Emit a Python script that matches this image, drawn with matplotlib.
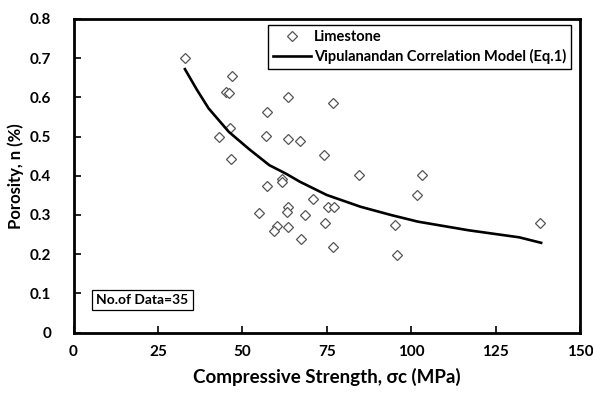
import matplotlib.pyplot as plt
import numpy as np

plt.rcParams['font.family'] = ['Lato', 'DejaVu Sans']

# measured limestone data (compressive strength MPa, porosity %)
strength = [33, 47, 45.3, 46, 63.5, 76.9, 57.2, 46.3, 43, 56.9, 63.5, 67,
            46.5, 74.1, 84.7, 61.8, 61.6, 57.2, 70.8, 63.5, 63.3, 75.4, 77.1,
            54.9, 68.5, 60.3, 59.4, 63.5, 74.6, 67.4, 76.9, 103.2, 101.6,
            95.1, 95.9, 138.3]
porosity = [0.70, 0.655, 0.613, 0.61, 0.60, 0.585, 0.563, 0.522, 0.50, 0.502,
            0.493, 0.489, 0.443, 0.452, 0.402, 0.393, 0.383, 0.374, 0.341,
            0.321, 0.308, 0.321, 0.321, 0.306, 0.30, 0.272, 0.26, 0.269, 0.28,
            0.238, 0.219, 0.402, 0.35, 0.274, 0.198, 0.28]

# model curve
model_x = [33, 36.5, 40, 46, 52, 58, 63, 67, 75, 85, 94, 102, 117, 132, 138.5]
model_y = [0.672, 0.62, 0.572, 0.512, 0.468, 0.427, 0.405, 0.385, 0.351,
           0.321, 0.300, 0.283, 0.261, 0.243, 0.229]

fig = plt.figure(figsize=(5.93, 3.95), dpi=100)
ax = fig.add_axes([0.124, 0.158, 0.854, 0.794])

ax.plot(strength, porosity, linestyle='none', marker='D', ms=5.2,
        mfc='white', mec='#555555', mew=0.9, label='Limestone')
ax.plot(model_x, model_y, color='black', lw=1.9,
        label='Vipulanandan Correlation Model (Eq.1)')

ax.set_xlim(0, 150)
ax.set_ylim(0, 0.8)
ax.set_xticks(np.arange(0, 151, 25))
ax.set_yticks(np.arange(0, 0.81, 0.1))
ax.set_yticklabels(['0', '0.1', '0.2', '0.3', '0.4', '0.5', '0.6', '0.7', '0.8'])
ax.tick_params(direction='in', length=5, width=1.2, labelsize=11)
ax.tick_params(axis='x', pad=9)
ax.tick_params(axis='y', pad=16)
for lab in ax.get_xticklabels() + ax.get_yticklabels():
    lab.set_fontweight('bold')
for sp in ax.spines.values():
    sp.set_linewidth(2)

ax.set_xlabel('Compressive Strength, σc (MPa)', fontsize=13.5, fontweight='bold', labelpad=6)
ax.set_ylabel('Porosity, n (%)', fontsize=12, fontweight='bold', labelpad=4)

leg = ax.legend(loc='upper right', bbox_to_anchor=(0.988, 0.99), fancybox=False,
                edgecolor='black', framealpha=1, fontsize=10.5, handlelength=2.6,
                handletextpad=0.2, borderpad=0.35, labelspacing=0.35,
                borderaxespad=0.2)
leg.get_frame().set_linewidth(1.0)
for t in leg.get_texts():
    t.set_fontweight('bold')

ax.text(0.045, 0.103, 'No.of Data=35', transform=ax.transAxes, fontsize=10,
        fontweight='bold', va='center', ha='left',
        bbox=dict(boxstyle='square,pad=0.3', fc='white', ec='black', lw=0.9))

fig.savefig('out.png', dpi=100)
